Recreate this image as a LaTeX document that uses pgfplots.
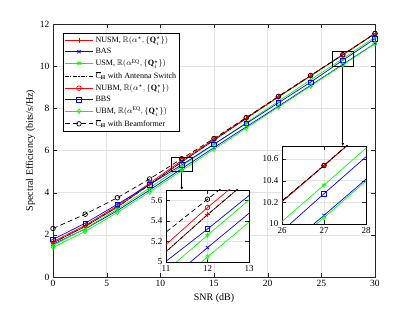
\documentclass[border=0pt]{standalone}
\usepackage{amssymb}
\usepackage{fontspec}
\setmainfont{Liberation Serif}
\usepackage{pgfplots}
\usepackage{pgfplotstable}
\pgfplotsset{compat=1.18}
\usetikzlibrary{arrows.meta}

\pgfplotstableread{
snr BF AS NUSM NUBM BBS USM BAS UBM
0  2.30 1.62 1.62 1.68 1.78 1.50 1.55 1.40
3  2.98 2.40 2.40 2.45 2.55 2.30 2.28 2.16
6  3.76 3.32 3.32 3.38 3.45 3.22 3.15 3.06
9  4.65 4.38 4.38 4.45 4.38 4.22 4.12 4.03
12 5.61 5.46 5.46 5.53 5.32 5.26 5.14 5.05
15 6.57 6.49 6.49 6.53 6.30 6.29 6.14 6.06
18 7.56 7.52 7.52 7.54 7.28 7.32 7.12 7.06
21 8.57 8.54 8.54 8.55 8.26 8.34 8.10 8.06
24 9.56 9.54 9.54 9.55 9.24 9.35 9.09 9.06
27 10.54 10.54 10.54 10.54 10.28 10.36 10.08 10.06
30 11.55 11.55 11.55 11.55 11.30 11.38 11.08 11.07
}\data

\definecolor{axgray}{gray}{0.15}
\pgfplotsset{
  mystyle/.style={
    scale only axis,
    axis line style={axgray},
    tick style={axgray},
    grid=major,
    major grid style={gray!22},
    tick label style={font=\fontsize{9.5}{10}\selectfont},
    /pgf/number format/assume math mode=true,
    every axis plot/.append style={line width=0.7pt, mark size=2.3pt},
  },
  sNUSM/.style={red, mark=+},
  sBAS/.style={blue, mark=x},
  sUSM/.style={green, mark=asterisk},
  sAS/.style={black, dash pattern=on 4pt off 1.5pt on 1pt off 1.5pt, mark=none},
  sNUBM/.style={red, mark=o},
  sBBS/.style={blue, mark=square},
  sUBM/.style={green, mark=diamond},
  sBF/.style={black, dash pattern=on 5pt off 3pt, mark=o, mark options={solid}},
}

\begin{document}
\begin{tikzpicture}
\path[use as bounding box] (0,0) rectangle (415pt,312pt);
\begin{axis}[mystyle,
  at={(53pt,35pt)}, anchor=south west,
  width=322pt, height=253pt,
  xmin=0, xmax=30, ymin=0, ymax=12,
  xtick={0,5,...,30}, ytick={0,2,...,12},
  xlabel={SNR (dB)}, ylabel={Spectral Efficiency (bits/s/Hz)},
  label style={font=\fontsize{10}{11}\selectfont},
  ylabel style={yshift=-2pt},
  legend style={at={(0.031,0.964)}, anchor=north west, draw=black, fill=white,
    font=\fontsize{8.1}{9}\selectfont, cells={anchor=west}, row sep=0.2pt,
    inner sep=1.2pt},
  legend image code/.code={\draw[mark repeat=2, mark phase=2] plot coordinates {(0cm,0cm) (0.5cm,0cm) (1cm,0cm)};},
]
\addplot[sNUSM] table[x=snr,y=NUSM]{\data};
\addlegendentry{NUSM, $\mathbb{R}(\alpha^{\star},\{\mathbf{Q}_i^{\star}\})$}
\addplot[sBAS] table[x=snr,y=BAS]{\data};
\addlegendentry{BAS}
\addplot[sUSM] table[x=snr,y=USM]{\data};
\addlegendentry{USM, $\mathbb{R}(\alpha^{\mathrm{EQ}},\{\mathbf{Q}_i^{\star}\})$}
\addplot[sAS] table[x=snr,y=AS]{\data};
\addlegendentry{$\overline{\mathrm{C}}_{\mathbf{H}}$ with Antenna Switch}
\addplot[sNUBM] table[x=snr,y=NUBM]{\data};
\addlegendentry{NUBM, $\mathbb{R}(\alpha^{\star},\{\mathbf{Q}_i^{\star}\})$}
\addplot[sBBS] table[x=snr,y=BBS]{\data};
\addlegendentry{BBS}
\addplot[sUBM] table[x=snr,y=UBM]{\data};
\addlegendentry{UBM, $\mathbb{R}(\alpha^{\mathrm{EQ}},\{\mathbf{Q}_i^{\star}\})$}
\addplot[sBF] table[x=snr,y=BF]{\data};
\addlegendentry{$\overline{\mathrm{C}}_{\mathbf{H}}$ with Beamformer}
\draw[black, line width=0.6pt] (axis cs:11,5) rectangle (axis cs:13,5.7);
\draw[black, line width=0.6pt, -{Latex[length=3pt,width=2.5pt]}] (axis cs:12,5) -- (axis cs:12,4.127);
\draw[black, line width=0.6pt] (axis cs:26,10) rectangle (axis cs:28,10.72);
\draw[black, line width=0.6pt, -{Latex[length=3pt,width=2.5pt]}] (axis cs:27,10) -- (axis cs:27,6.21);
\end{axis}

\begin{axis}[mystyle,
  at={(166pt,50pt)}, anchor=south west,
  width=83pt, height=72pt,
  axis background/.style={fill=white},
  axis line style={black},
  tick label style={font=\fontsize{9}{10}\selectfont},
  xmin=11, xmax=13, ymin=5, ymax=5.7,
  xtick={11,12,13}, ytick={5,5.2,5.4,5.6},
  yticklabel style={/pgf/number format/fixed},
]
\addplot[sNUSM] table[x=snr,y=NUSM]{\data};
\addplot[sBAS] table[x=snr,y=BAS]{\data};
\addplot[sUSM] table[x=snr,y=USM]{\data};
\addplot[sAS] table[x=snr,y=AS]{\data};
\addplot[sNUBM] table[x=snr,y=NUBM]{\data};
\addplot[sBBS] table[x=snr,y=BBS]{\data};
\addplot[sUBM] table[x=snr,y=UBM]{\data};
\addplot[sBF] table[x=snr,y=BF]{\data};
\end{axis}

\begin{axis}[mystyle,
  at={(282pt,88pt)}, anchor=south west,
  width=84pt, height=78pt,
  axis background/.style={fill=white},
  axis line style={black},
  tick label style={font=\fontsize{9}{10}\selectfont},
  xmin=26, xmax=28, ymin=10, ymax=10.72,
  xtick={26,27,28}, ytick={10,10.2,10.4,10.6},
  yticklabel style={/pgf/number format/fixed},
]
\addplot[sNUSM] table[x=snr,y=NUSM]{\data};
\addplot[sBAS] table[x=snr,y=BAS]{\data};
\addplot[sUSM] table[x=snr,y=USM]{\data};
\addplot[sAS] table[x=snr,y=AS]{\data};
\addplot[sNUBM] table[x=snr,y=NUBM]{\data};
\addplot[sBBS] table[x=snr,y=BBS]{\data};
\addplot[sUBM] table[x=snr,y=UBM]{\data};
\addplot[sBF] table[x=snr,y=BF]{\data};
\end{axis}
\end{tikzpicture}
\end{document}
